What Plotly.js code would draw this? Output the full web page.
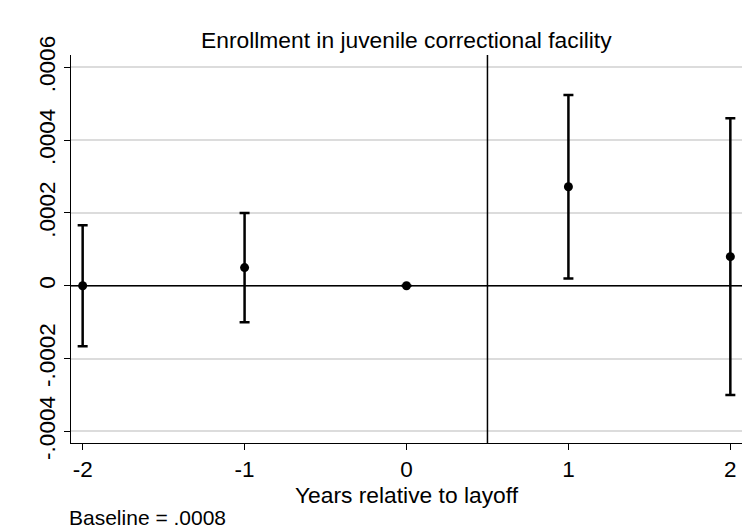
<!DOCTYPE html>
<html>
<head>
<meta charset="utf-8">
<script src="https://cdn.plot.ly/plotly-3.0.1.min.js"></script>
<style>
  html, body { margin: 0; padding: 0; background: #fff; }
  #chart { width: 749px; height: 531px; }
</style>
</head>
<body>
<div id="chart"></div>
<script>
    // years relative to layoff and point estimates with CI half-widths
    var years = [-2, -1, 0, 1, 2];
    var coefs = [0, 0.00005, 0, 0.000272, 0.00008];
    var ciHalf = [0.000166, 0.00015, 0, 0.000252, 0.00038];

    var yTickVals = [-0.0004, -0.0002, 0, 0.0002, 0.0004, 0.0006];
    var yTickText = ["-.0004", "-.0002", "0", ".0002", ".0004", ".0006"];
    var xTickVals = [-2, -1, 0, 1, 2];

    var font = "Liberation Sans, Arial, sans-serif";

    var data = [{
    type: "scatter",
    mode: "markers",
    x: years,
    y: coefs,
    marker: {color: "#000", size: 9},
    error_y: {type: "data", array: ciHalf, visible: true, color: "#000", thickness: 2.5, width: 5},
    showlegend: false,
    hoverinfo: "x+y"
    }];

    var layout = {
    width: 749,
    height: 531,
    margin: {t: 55, b: 88, l: 71, r: 7},
    paper_bgcolor: "#fff",
    plot_bgcolor: "#fff",
    font: {family: font, size: 22, color: "#000"},
    title: {
        text: "Enrollment in juvenile correctional facility",
        font: {family: font, size: 22.8, color: "#000"},
        x: 0.5425, xanchor: "center", y: 0.925, yanchor: "middle"
    },
    xaxis: {
        range: [-2.072, 2.072],
        tickvals: xTickVals,
        ticktext: xTickVals.map(String),
        ticks: "outside", ticklen: 6, tickcolor: "#000", tickwidth: 1,
        showgrid: false, zeroline: false,
        showline: true, linecolor: "#000", linewidth: 1,
        tickfont: {family: font, size: 22.5, color: "#000"},
        title: {text: "Years relative to layoff", font: {family: font, size: 22.8}, standoff: 0}
    },
    yaxis: {
        range: [-0.000432, 0.000634],
        tickvals: yTickVals,
        ticktext: yTickText,
        tickangle: -90,
        ticks: "outside", ticklen: 6, tickcolor: "#000", tickwidth: 1,
        showgrid: true, gridcolor: "#dcdcdc", gridwidth: 1.5,
        zeroline: false,
        showline: true, linecolor: "#000", linewidth: 1,
        tickfont: {family: font, size: 22.5, color: "#000"}
    },
    shapes: [
        {type: "line", xref: "paper", x0: 0, x1: 1, yref: "y", y0: 0, y1: 0,
         line: {color: "#000", width: 1.5}},
        {type: "line", xref: "x", x0: 0.5, x1: 0.5, yref: "paper", y0: 0, y1: 1,
         line: {color: "#000", width: 1.5}}
    ],
    annotations: [{
        text: "Baseline = .0008",
        xref: "paper", yref: "paper", x: -0.006, y: -0.193,
        xanchor: "left", yanchor: "middle", showarrow: false,
        font: {family: font, size: 21, color: "#000"}
    }]
    };

    var config = {responsive: false, displayModeBar: false}

    Plotly.newPlot("chart", data, layout, config);
</script>
</body>
</html>
